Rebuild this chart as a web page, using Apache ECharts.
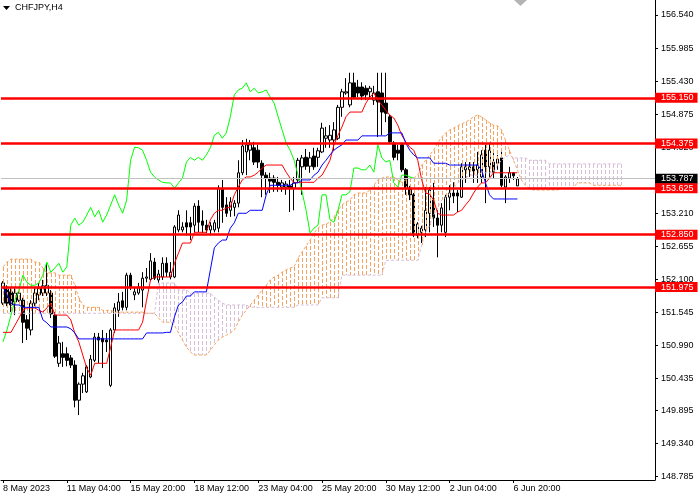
<!DOCTYPE html>
<html><head><meta charset="utf-8">
<script src="https://cdn.jsdelivr.net/npm/echarts@6/dist/echarts.min.js"></script>
<style>html,body{margin:0;padding:0;background:#fff}#c{width:700px;height:500px}</style>
</head><body><div id="c"></div>
<script>
// ---- data (CHFJPY, H4) ----
const open = [
151.70,151.94,151.89,151.72,151.75,151.75,151.42,151.25,151.70,151.84,
151.87,151.87,151.87,151.50,150.69,150.85,150.85,150.78,150.66,150.07,
150.34,150.21,150.46,150.74,151.13,151.11,151.08,150.32,151.25,151.58,
151.74,151.63,152.17,151.84,151.87,151.92,152.12,152.10,152.39,152.09,
152.14,152.37,152.14,152.14,152.93,152.93,153.05,153.05,153.01,153.33,
153.08,153.01,152.93,152.93,152.96,153.63,153.35,153.26,153.31,153.38,
153.89,154.24,154.27,154.31,154.27,154.05,153.85,153.80,153.80,153.73,
153.65,153.65,153.67,153.63,153.77,153.99,154.15,154.00,154.17,154.15,
154.24,154.47,154.44,154.44,154.47,154.99,155.23,155.03,155.40,155.33,
155.33,155.31,155.25,155.11,155.25,155.23,155.06,154.83,154.39,154.27,
154.36,153.94,153.63,153.52,152.84,152.89,152.93,153.21,153.43,153.13,
153.01,152.89,153.48,153.55,153.55,153.48,153.94,153.94,153.99,153.94,
153.82,154.27,153.99,154.07,154.05,154.14,153.65,153.80,153.89,153.67];
const high = [
152.07,152.00,151.95,151.95,151.89,151.79,151.50,151.75,151.95,152.04,
152.09,152.37,151.92,151.55,151.15,151.05,150.96,150.83,150.74,150.37,
150.53,150.66,150.83,151.20,151.20,151.25,151.20,151.28,151.70,151.87,
151.89,152.21,152.21,151.97,152.04,152.22,152.29,152.54,152.46,152.26,
152.47,152.47,152.39,153.01,153.26,153.06,153.26,153.15,153.38,153.43,
153.26,153.10,153.06,153.10,153.68,153.77,153.48,153.48,153.43,154.10,
154.44,154.46,154.44,154.41,154.36,154.10,153.90,153.89,153.85,153.82,
153.77,153.75,153.77,153.82,154.14,154.19,154.29,154.24,154.31,154.31,
154.73,154.66,154.69,154.74,155.03,155.30,155.48,155.57,155.57,155.45,
155.41,155.36,155.35,155.35,155.57,155.57,155.57,154.86,154.42,154.36,
154.39,153.97,153.67,153.55,153.06,153.00,153.65,153.65,153.72,153.26,
153.38,153.52,153.68,153.73,153.60,154.05,154.07,154.07,154.07,154.24,
154.27,154.36,154.39,154.22,154.19,154.24,153.85,153.99,153.90,153.82];
const low = [
151.67,151.65,151.55,151.50,151.72,151.03,151.08,151.16,151.65,151.75,
151.82,151.82,151.45,150.78,150.63,150.63,150.64,150.61,149.95,149.82,
150.19,150.19,150.44,150.71,150.69,150.61,150.88,150.29,151.20,151.47,
151.58,151.58,151.92,151.75,151.84,151.63,152.05,152.07,152.09,152.04,
152.09,152.14,152.10,152.12,152.89,152.89,152.84,152.76,152.89,152.89,
152.88,152.88,152.84,152.89,152.89,153.05,153.15,153.15,153.16,153.31,
153.85,153.85,154.10,154.02,153.97,153.48,153.52,153.55,153.57,153.57,
153.57,153.52,153.23,153.26,153.72,153.52,153.94,153.89,153.94,153.99,
154.22,154.31,154.31,154.27,154.44,154.83,155.20,154.99,155.15,155.16,
155.11,155.11,155.16,155.03,154.49,154.52,154.74,154.39,154.10,154.10,
153.90,153.52,153.43,152.81,152.79,152.71,152.81,152.89,152.98,152.47,
152.89,152.81,153.26,153.38,153.23,153.47,153.72,153.82,153.72,153.72,
153.72,153.38,153.82,153.80,153.94,153.65,153.38,153.72,153.77,153.67];
const close = [
152.04,151.70,151.67,151.87,151.87,151.38,151.28,151.70,151.87,151.95,
151.99,152.00,151.52,150.81,151.03,150.79,150.74,150.66,150.07,150.34,
150.48,150.63,150.76,151.13,151.08,151.05,151.05,151.25,151.62,151.72,
151.63,152.17,151.97,151.89,151.97,152.12,152.14,152.41,152.12,152.19,
152.37,152.22,152.22,152.98,153.18,152.98,152.98,152.98,153.33,153.06,
153.01,152.93,153.00,153.05,153.63,153.31,153.21,153.40,153.38,153.89,
154.34,154.36,154.36,154.07,154.07,153.85,153.80,153.75,153.73,153.68,
153.72,153.70,153.63,153.72,154.10,154.14,154.00,154.14,153.99,154.26,
154.64,154.51,154.52,154.61,154.99,155.25,155.25,155.40,155.16,155.23,
155.18,155.20,155.31,155.23,155.08,154.91,154.89,154.41,154.15,154.22,
153.94,153.63,153.52,152.84,153.03,152.96,153.26,153.60,153.13,153.01,
153.30,153.48,153.55,153.50,153.50,153.99,153.99,153.99,153.92,154.02,
154.19,153.99,154.27,153.90,154.12,153.68,153.82,153.89,153.84,153.787];
const tenkan = [
151.21,151.21,151.21,151.33,151.45,151.58,151.62,151.62,151.62,151.58,
151.55,151.62,151.70,151.50,151.50,151.50,151.50,151.42,151.20,151.05,
150.83,150.61,150.49,150.69,150.69,150.69,150.69,150.96,151.25,151.25,
151.25,151.25,151.25,151.25,151.25,151.38,151.75,152.09,152.14,152.14,
152.14,152.14,152.14,152.37,152.54,152.71,152.71,152.71,152.89,152.89,
152.89,152.89,153.10,153.21,153.26,153.26,153.30,153.31,153.52,153.65,
153.77,153.82,153.82,153.85,153.90,153.97,154.02,154.02,154.02,154.02,
154.02,153.90,153.80,153.72,153.73,153.73,153.73,153.73,153.73,153.80,
153.85,153.97,154.10,154.36,154.52,154.66,154.83,154.91,154.91,154.91,
154.91,155.06,155.16,155.23,155.11,155.03,154.94,154.86,154.81,154.69,
154.52,154.41,154.32,154.27,154.10,153.77,153.55,153.53,153.43,153.21,
153.18,153.18,153.18,153.18,153.23,153.26,153.35,153.43,153.55,153.65,
153.72,153.72,153.80,153.89,153.89,153.89,153.89,153.89,153.89,153.89];
const kijun = [
151.97,151.84,151.70,151.67,151.67,151.63,151.63,151.63,151.63,151.63,
151.42,151.37,151.30,151.30,151.30,151.30,151.30,151.27,151.20,151.10,
151.10,151.10,151.10,151.10,151.10,151.10,151.10,151.10,151.10,151.10,
151.10,151.10,151.10,151.10,151.10,151.10,151.20,151.20,151.20,151.20,
151.20,151.21,151.21,151.47,151.67,151.72,151.82,151.82,151.89,151.89,
151.89,151.89,152.26,152.63,152.71,152.76,152.76,152.96,153.05,153.21,
153.21,153.21,153.26,153.26,153.26,153.26,153.52,153.68,153.68,153.68,
153.68,153.68,153.68,153.72,153.72,153.77,153.77,153.77,153.85,153.90,
154.02,154.10,154.19,154.27,154.32,154.36,154.44,154.44,154.44,154.44,
154.51,154.51,154.51,154.51,154.51,154.51,154.51,154.56,154.56,154.56,
154.56,154.39,154.27,154.19,154.14,154.14,154.14,154.14,154.05,154.05,
154.05,154.05,154.02,154.02,154.02,154.02,154.02,154.02,154.02,154.02,
153.94,153.72,153.52,153.45,153.45,153.45,153.45,153.45,153.45,153.45];
const chikou = [
151.05,151.25,151.50,151.75,151.92,152.17,152.05,152.00,152.00,152.04,
152.17,152.39,152.22,152.29,152.37,152.22,152.31,153.01,153.13,153.01,
153.06,153.18,153.31,153.15,153.26,153.06,153.18,153.35,153.52,153.35,
153.21,153.43,154.10,154.32,154.31,154.27,154.10,153.90,153.82,153.77,
153.73,153.72,153.72,153.63,153.72,153.80,154.07,154.15,154.10,154.15,
154.10,154.19,154.31,154.52,154.57,154.47,154.56,154.83,155.20,155.28,
155.31,155.40,155.25,155.31,155.23,155.25,155.28,155.16,155.06,154.83,
154.61,154.39,154.27,154.10,153.85,153.57,153.26,152.88,152.96,153.01,
153.52,153.52,153.10,153.06,153.26,153.52,153.52,153.57,153.97,153.97,
153.94,153.94,154.02,153.90,154.36,154.14,154.07,154.10,153.72,153.65,
153.85,153.85,153.82,153.80];
const spanA = [
152.31,152.39,152.44,152.44,152.44,152.44,152.44,152.44,152.39,152.39,
152.29,152.21,152.21,152.21,152.17,152.17,152.17,152.17,152.00,151.79,
151.67,151.63,151.63,151.63,151.63,151.58,151.58,151.58,151.55,151.55,
151.55,151.55,151.55,151.55,151.55,151.55,151.53,151.53,151.53,151.45,
151.38,151.38,151.38,151.33,151.20,151.08,150.96,150.88,150.83,150.83,
150.83,150.83,150.91,151.00,151.08,151.13,151.16,151.20,151.25,151.38,
151.50,151.58,151.67,151.75,151.84,151.92,152.00,152.09,152.14,152.17,
152.22,152.26,152.29,152.31,152.46,152.56,152.66,152.76,152.88,152.96,
153.01,153.03,153.06,153.15,153.26,153.35,153.40,153.43,153.52,153.55,
153.55,153.55,153.60,153.68,153.77,153.80,153.82,153.82,153.82,153.77,
153.73,153.77,153.80,153.80,153.85,154.02,154.10,154.19,154.27,154.39,
154.49,154.56,154.61,154.64,154.68,154.71,154.74,154.78,154.83,154.86,
154.83,154.78,154.73,154.69,154.68,154.61,154.44,154.27,154.10,153.94,
153.77,153.68,153.63,153.60,153.60,153.60,153.60,153.60,153.60,153.60,
153.63,153.63,153.63,153.63,153.72,153.72,153.72,153.72,153.68,153.68,
153.68,153.68,153.68,153.68,153.68,153.68];
const spanB = [
151.53,151.53,151.53,151.53,151.53,151.53,151.53,151.53,151.53,151.53,
151.53,151.53,151.53,151.53,151.53,151.53,151.53,151.53,151.53,151.53,
151.53,151.53,151.53,151.53,151.53,151.53,151.53,151.53,151.53,151.53,
151.53,151.53,151.53,151.53,151.53,151.53,151.53,151.53,151.53,152.04,
152.04,152.04,152.04,152.04,151.92,151.92,151.92,151.87,151.87,151.87,
151.87,151.87,151.87,151.80,151.75,151.70,151.67,151.67,151.67,151.67,
151.67,151.67,151.63,151.63,151.63,151.63,151.63,151.63,151.63,151.63,
151.63,151.63,151.63,151.63,151.67,151.67,151.67,151.67,151.67,151.67,
151.79,151.79,151.79,151.79,151.79,152.17,152.17,152.17,152.17,152.17,
152.17,152.17,152.17,152.17,152.17,152.17,152.42,152.42,152.42,152.42,
152.42,152.42,152.42,152.42,152.42,152.68,152.89,153.01,153.18,153.30,
153.43,153.48,153.55,153.63,153.72,153.77,153.80,153.85,153.85,153.85,
153.89,153.89,153.89,153.89,154.02,154.10,154.15,154.19,154.14,154.14,
154.14,154.14,154.10,154.10,154.10,154.10,154.10,154.04,154.04,154.04,
154.04,154.04,154.04,154.04,154.04,154.04,154.04,154.04,154.04,154.04,
154.04,154.04,154.04,154.04,154.04,154.04];
const levels = [155.150, 154.375, 153.625, 152.850, 151.975];
const lastPrice = 153.787;
const yTicks = [156.540,155.985,155.430,154.875,154.320,153.765,153.210,152.655,152.100,151.545,150.990,150.435,149.895,149.340,148.785];
const xTickLabels = ['8 May 2023','11 May 04:00','15 May 20:00','18 May 12:00','23 May 04:00','25 May 20:00','30 May 12:00','2 Jun 04:00','6 Jun 20:00'];
const labelStep = 16;      // bars between time labels
const slotCount = 164;     // bar slots on the time axis (incl. right margin)

// ---- build ----
const categories = [];
for (let i = 0; i < slotCount; i++) categories.push(String(i));
const candleData = open.map((o, i) => [o, close[i], low[i], high[i]]);
const bullCloud = [], bearCloud = [];
spanA.forEach((a, i) => { (a >= spanB[i] ? bullCloud : bearCloud).push([i, a, spanB[i]]); });
const FONT = 'Liberation Sans';
const isLabelIdx = (idx) => idx % labelStep === 0 && idx / labelStep < xTickLabels.length;

// vertical dotted hatch between span A and span B, drawn as crisp 1px dashes
const hatch = (color) => (params, api) => {
  const i = api.value(0);
  const p1 = api.coord([i, api.value(1)]), p2 = api.coord([i, api.value(2)]);
  const x = Math.round(p1[0]);
  const top = Math.round(Math.min(p1[1], p2[1])), bot = Math.round(Math.max(p1[1], p2[1]));
  const children = [];
  for (let y = top; y < bot; y += 6) {
    children.push({type: 'rect', shape: {x: x, y: y, width: 1, height: Math.min(4, bot - y)},
      style: {fill: color}, silent: true});
  }
  return {type: 'group', children: children};
};

const chart = echarts.init(document.getElementById('c'), null, {renderer: 'canvas'});
const tag = (v, bg, lineColor, w) => ({
  yAxis: v,
  lineStyle: {color: lineColor, width: w, type: 'solid'},
  label: {backgroundColor: bg, formatter: v.toFixed(3)}
});
chart.setOption({
  animation: false,
  backgroundColor: '#ffffff',
  grid: {left: -1, right: 45, top: 0, bottom: 20, containLabel: false},
  xAxis: {
    type: 'category', data: categories, boundaryGap: true,
    axisLine: {show: true, lineStyle: {color: '#000', width: 1}},
    axisTick: {show: true, alignWithLabel: true, length: 3, interval: (idx) => isLabelIdx(idx), lineStyle: {color: '#000'}},
    axisLabel: {show: true, interval: (idx) => isLabelIdx(idx), align: 'left', margin: 4,
      formatter: (v, idx) => isLabelIdx(idx) ? xTickLabels[idx / labelStep] : '',
      color: '#000', fontSize: 9, fontFamily: FONT},
    splitLine: {show: false}
  },
  yAxis: {
    type: 'value', position: 'right', min: 148.73, max: 156.792, scale: true,
    axisLine: {show: true, lineStyle: {color: '#000', width: 1}},
    axisTick: {show: true, length: 3, customValues: yTicks, lineStyle: {color: '#000'}},
    axisLabel: {show: true, customValues: yTicks, margin: 6, formatter: (v) => v.toFixed(3),
      color: '#000', fontSize: 9, fontFamily: FONT},
    splitLine: {show: false}
  },
  series: [
    {type: 'candlestick', data: candleData, barWidth: 3, z: 2, silent: true,
      itemStyle: {color: '#ffffff', color0: '#000000', borderColor: '#000000', borderColor0: '#000000', borderWidth: 1}},
    {type: 'custom', data: bullCloud, z: 3, silent: true, encode: {x: 0, y: [1, 2]}, renderItem: hatch('#f4a460')},
    {type: 'custom', data: bearCloud, z: 3, silent: true, encode: {x: 0, y: [1, 2]}, renderItem: hatch('#d8bfd8')},
    {type: 'line', data: spanA, symbol: 'none', z: 3, silent: true, lineStyle: {color: '#f4a460', width: 1, type: [3, 2]}},
    {type: 'line', data: spanB, symbol: 'none', z: 3, silent: true, lineStyle: {color: '#d8bfd8', width: 1, type: [3, 2]}},
    {type: 'line', data: chikou, symbol: 'none', z: 4, silent: true, lineStyle: {color: '#00ff00', width: 1}},
    {type: 'line', data: tenkan, symbol: 'none', z: 4, silent: true, lineStyle: {color: '#ff0000', width: 1}},
    {type: 'line', data: kijun, symbol: 'none', z: 4, silent: true, clip: false, lineStyle: {color: '#0000ff', width: 1},
      markLine: {
        silent: true, symbol: 'none', animation: false, z: 6,
        label: {show: true, position: 'end', distance: 0,
          color: '#ffffff', fontSize: 9, fontFamily: FONT, lineHeight: 9, padding: [1, 4, 0, 6]},
        data: [tag(lastPrice, '#000000', '#c0c0c0', 1)].concat(levels.map(v => tag(v, '#ff0000', '#ff0000', 2.5)))
      }}
  ],
  graphic: [
    {type: 'polygon', shape: {points: [[3, 6], [10, 6], [6.5, 10]]}, style: {fill: '#000'}},
    {type: 'text', x: 15, y: 3, style: {text: 'CHFJPY,H4', font: '9px "Liberation Sans"', fill: '#000'}},
    {type: 'polygon', shape: {points: [[514, 0], [527, 0], [520.5, 6]]}, style: {fill: '#b4b4b4'}}
  ]
});
</script>
</body></html>
